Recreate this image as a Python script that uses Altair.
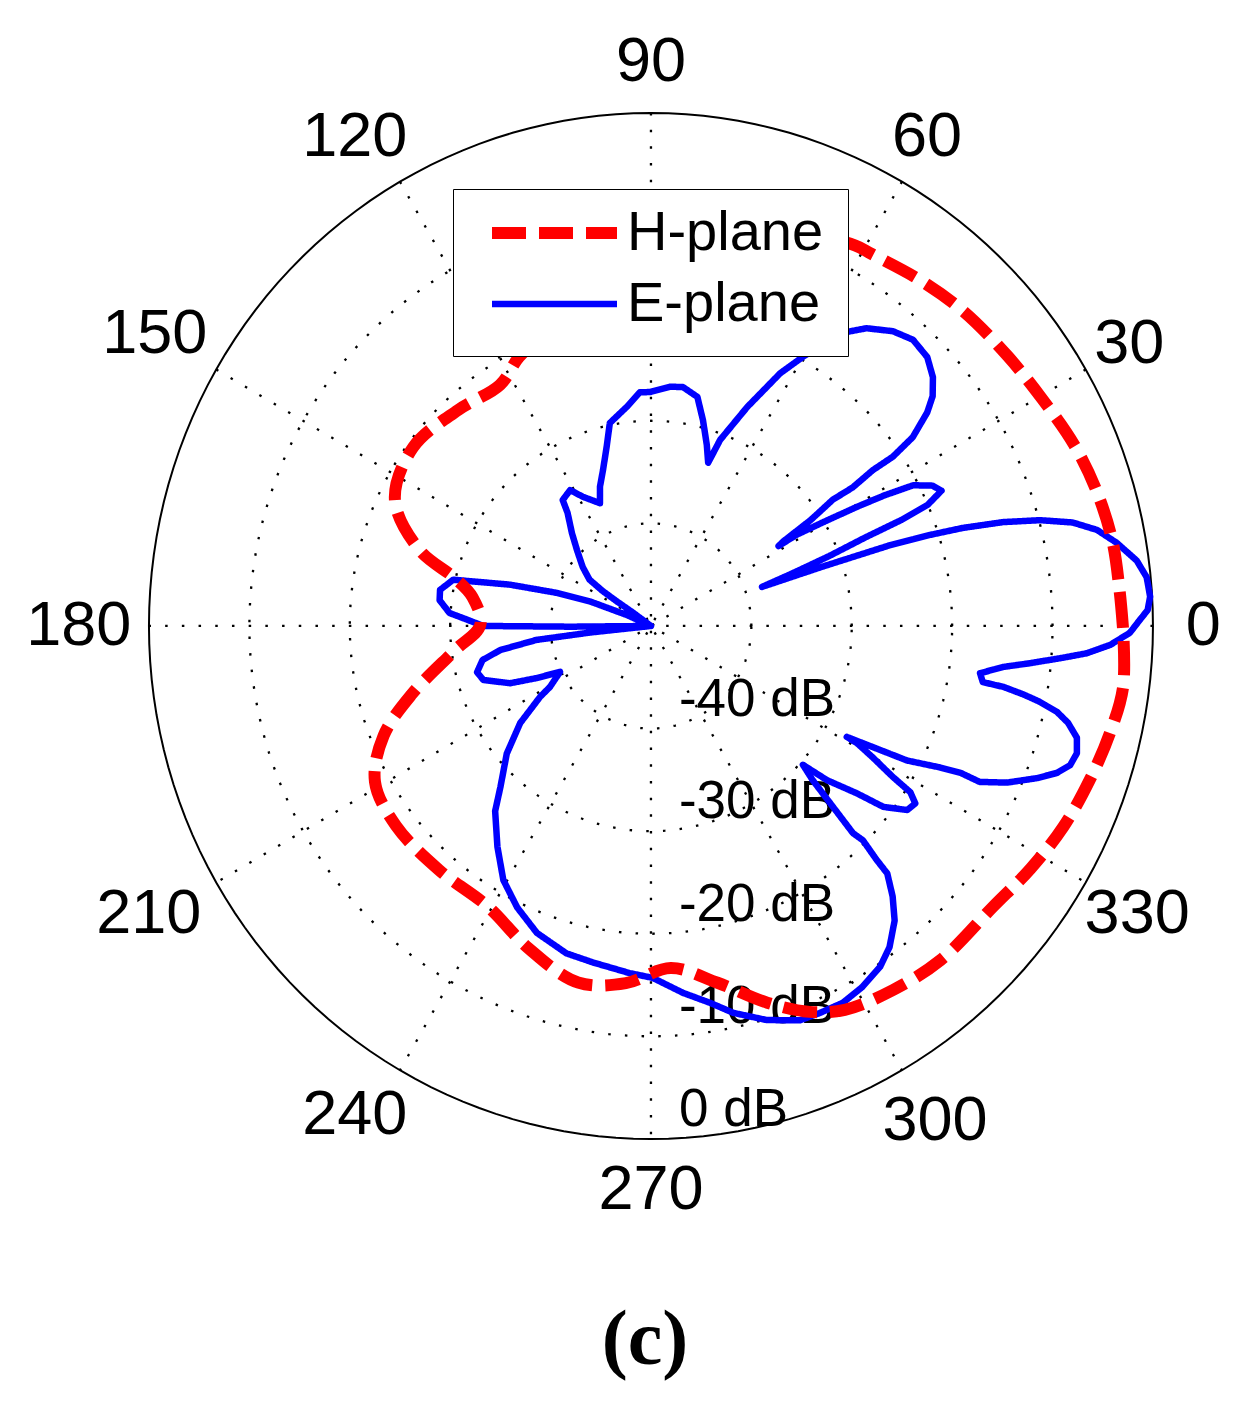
import altair as alt
import pandas as pd

# ---------------- data ----------------
# H-plane (red dashed): angle in degrees, level in dB (centre = -50 dB, outer ring = 0 dB)
h_ang = [0, 4.3, 10.2, 16.4, 22.7, 29.7, 36.6, 44.5, 51.2, 58.8, 61.3, 70, 80, 90, 100, 110,
         116.7, 122.6, 132.4, 143.7, 154.3, 162.2, 166.7, 171, 179.7, 187, 195.7, 201.9,
         208.9, 217.5, 228.4, 239.2, 248.8, 258.2, 265.9, 273.4, 280.8, 287.5, 292.8, 297.3,
         304.2, 311.5, 321.2, 328, 334.5, 341, 347.2, 352.8, 360]
h_db = [-3.0, -3.2, -3.3, -3.7, -4.3, -5.2, -5.8, -6.3, -6.9, -7.6, -7.7, -9.0, -11.0, -13.5,
        -16.5, -19.5, -20.7, -22.1, -21.5, -20.6, -21.7, -25.8, -30.0, -32.0, -33.0, -30.3,
        -25.2, -21.3, -18.6, -18.0, -18.2, -18.2, -16.3, -14.5, -15.1, -16.6, -14.6, -11.5,
        -9.2, -7.9, -7.1, -6.5, -6.3, -5.4, -4.5, -3.8, -3.1, -2.6, -3.0]

# E-plane (blue solid), in drawing order
e_ang = [0.7, 1.8, 3.3, 5.5, 7.5, 9.9, 11.9, 13.5, 14.9, 16.1, 17.1, 17.7, 18.3, 18.7, 19.0,
         20.0, 21.0, 22.0, 22.5, 23.2, 24.5, 26.0, 27.7, 28.7, 29.5, 30.5, 31.5, 31.5, 32.0,
         33.0, 34.2, 33.9, 34.5, 34.4, 35.2, 37.1, 38.6, 40.8, 43.6, 46.9, 50.0, 53.5, 55.7,
         58.0, 60.0, 62.4, 65.8, 69.2, 70.3, 72.5, 75.5, 78.3, 82.2, 85.3, 90.2, 92.8, 96.4,
         101.7, 104.2, 107.5, 110.5, 113.0, 118.3, 121.3, 125.6, 127.0, 131.0, 135.0, 139.8,
         143.6, 144.7, 144.8, 144.0, 145.0, 150.0, 155.0, 156.0, 158.5, 161.0, 164.0, 167.1,
         170.5, 173.2, 176.4, 178.1, 180.0, 180.5, 181.0, 184.0, 186.0, 186.8, 188.9, 191.2,
         194.6, 197.5, 201.7, 204.0, 206.3, 210.6, 212.0, 216.0, 220.9, 226.3, 229.3, 234.6,
         239.3, 244.1, 249.2, 255.2, 260.0, 266.4, 270.3, 275.1, 279.1, 282.3, 286.7, 291.1,
         294.0, 297.5, 300.9, 304.5, 307.2, 310.2, 312.4, 314.3, 314.6, 315.3, 314.9, 315.8,
         317.0, 318.2, 319.4, 321.5, 322.7, 324.9, 326.7, 327.9, 328.6, 329.9, 330.9, 331.0,
         331.9, 332.8, 334.4, 335.1, 335.1, 336.7, 338.9, 340.5, 342.0, 343.7, 345.6, 347.2,
         348.3, 349.2, 349.8, 350.4, 350.6, 352.0, 353.5, 354.5, 355.7, 356.5, 357.7, 359.2,
         360.7]
e_db = [-1.3, -0.5, -0.2, -0.4, -1.2, -2.9, -4.6, -6.8, -9.9, -13.5, -17.5, -20.8, -25.0,
        -32.0, -38.3, -35.0, -31.0, -27.0, -23.0, -20.0, -18.2, -18.8, -20.5, -23.5, -26.4,
        -30.0, -33.0, -35.1, -34.5, -31.0, -28.1, -25.8, -23.2, -20.8, -18.1, -15.5, -14.1,
        -12.9, -12.0, -11.8, -12.5, -13.9, -15.3, -17.5, -19.7, -22.2, -26.6, -30.6, -33.1,
        -31.5, -29.3, -27.2, -26.5, -26.6, -27.2, -27.2, -28.5, -29.8, -32.0, -34.1, -35.5,
        -37.0, -35.7, -34.5, -34.9, -36.2, -38.0, -39.6, -41.1, -42.4, -44.1, -45.8, -47.8,
        -50.0, -50.0, -50.0, -47.4, -43.5, -40.1, -35.4, -29.8, -28.7, -28.8, -29.9, -31.7,
        -33.3, -42.0, -50.0, -50.0, -44.0, -38.5, -34.8, -32.9, -32.1, -32.5, -34.9, -37.5,
        -39.9, -38.3, -37.0, -33.9, -31.0, -28.3, -26.2, -23.6, -21.2, -19.5, -18.0, -17.0,
        -16.7, -16.1, -15.7, -14.1, -12.8, -11.4, -9.9, -8.8, -8.7, -8.6, -9.0, -9.7, -10.7,
        -12.4, -14.3, -16.3, -18.0, -20.3, -21.5, -24.7, -28.0, -29.7, -26.9, -23.8, -20.9,
        -18.8, -18.5, -19.5, -21.8, -24.5, -26.5, -27.7, -24.9, -21.3, -18.1, -16.0, -13.9,
        -11.4, -8.8, -7.1, -6.1, -5.8, -6.2, -7.4, -8.7, -10.6, -12.3, -14.4, -16.5, -16.9,
        -14.7, -12.1, -8.8, -6.5, -4.2, -2.3, -1.3]

series_names = ["H-plane", "E-plane"]
series_colors = ["#ff0000", "#0000ff"]
series_dash = [[34, 13], [1, 0]]
series_width = [12, 6.5]

ring_levels = [-40, -30, -20, -10]
outer_level = [0]
spoke_angles = [0, 30, 60, 90, 120, 150]
tick_angles = [0, 30, 60, 90, 120, 150, 180, 210, 240, 270, 300, 330]
tick_labels = ["0", "30", "60", "90", "120", "150", "180", "210", "240", "270", "300", "330"]
db_levels = [-40, -30, -20, -10, 0]
db_texts = ["-40 dB", "-30 dB", "-20 dB", "-10 dB", "0 dB"]
floor_db = -50
circle_steps = list(range(0, 362, 2))

# ---------------- layout ----------------
W, H = 1230, 1290
xs = alt.Scale(domain=[-64.04, 58.47], nice=False, zero=False)
ys = alt.Scale(domain=[-65.50, 60.23], nice=False, zero=False)
X = alt.X("x:Q", scale=xs, axis=None)
Y = alt.Y("y:Q", scale=ys, axis=None)
FONT = "Liberation Sans"

R_EXPR = f"max(0, datum.db - ({floor_db}))"


def polar(chart):
    return chart.transform_calculate(
        r=R_EXPR
    ).transform_calculate(
        x="datum.r * cos(datum.ang * PI / 180)",
        y="datum.r * sin(datum.ang * PI / 180)",
    )


# grid rings (dotted)
ring_df = pd.DataFrame([{"lev": l, "ang": a, "db": l} for l in ring_levels for a in circle_steps])
rings = polar(alt.Chart(ring_df)).mark_line(
    color="black", strokeWidth=2.3, strokeDash=[2.5, 14.2]
).encode(x=X, y=Y, detail="lev:N", order="ang:Q")

outer_df = pd.DataFrame([{"lev": l, "ang": a, "db": l} for l in outer_level for a in circle_steps])
outer = polar(alt.Chart(outer_df)).mark_line(
    color="black", strokeWidth=2
).encode(x=X, y=Y, detail="lev:N", order="ang:Q")

# spokes (dotted, through centre)
spoke_df = pd.DataFrame({"ang": spoke_angles})
spokes = alt.Chart(spoke_df).transform_calculate(
    x=f"{-floor_db} * cos(datum.ang * PI / 180)",
    y=f"{-floor_db} * sin(datum.ang * PI / 180)",
    x2=f"-{-floor_db} * cos(datum.ang * PI / 180)",
    y2=f"-{-floor_db} * sin(datum.ang * PI / 180)",
).mark_rule(color="black", strokeWidth=2.3, strokeDash=[2.5, 14.2]).encode(
    x=X, y=Y, x2="x2:Q", y2="y2:Q"
)

# angle labels
lab_df = pd.DataFrame({"ang": tick_angles, "txt": tick_labels})


def angle_labels(flt, dx, dy=0):
    return alt.Chart(lab_df).transform_filter(flt).transform_calculate(
        x=f"{-floor_db} * 1.1 * cos(datum.ang * PI / 180)",
        y=f"{-floor_db} * 1.1 * sin(datum.ang * PI / 180)",
    ).mark_text(
        font=FONT, fontSize=63, color="black", align="center", baseline="middle", dx=dx, dy=dy
    ).encode(x=X, y=Y, text="txt:N")


lab_left = angle_labels("datum.ang > 90 && datum.ang < 270 && datum.ang != 150 && datum.ang != 210", -20)
lab_150 = angle_labels("datum.ang == 150", -18, -10)
lab_210 = angle_labels("datum.ang == 210", -24, 6)
lab_right3 = angle_labels("datum.ang >= 300", 8, 6)
lab_rest = angle_labels("!(datum.ang > 90 && datum.ang < 270) && datum.ang < 300", 0)

# dB labels
dbl_df = pd.DataFrame({"db": db_levels, "txt": db_texts})
db_labels = alt.Chart(dbl_df).transform_calculate(
    r=R_EXPR
).transform_calculate(
    x="0", y="-datum.r"
).mark_text(
    font=FONT, fontSize=53, color="black", align="left", baseline="alphabetic", dx=28, dy=-13
).encode(x=X, y=Y, text="txt:N")

# curves
leg = alt.Legend(
    orient="none", legendX=445, legendY=181, title=None, symbolType="stroke",
    symbolSize=15625, clipHeight=40, rowPadding=15, labelFontSize=56, labelFont=FONT,
    labelColor="black", labelLimit=500, labelOffset=4, symbolOffset=9, padding=24,
    strokeColor="black", fillColor="white", zindex=1,
)
col = alt.Color("series:N", scale=alt.Scale(domain=series_names, range=series_colors), legend=leg)
dash = alt.StrokeDash("series:N", scale=alt.Scale(domain=series_names, range=series_dash), legend=leg)
sw = alt.StrokeWidth("series:N", scale=alt.Scale(domain=series_names, range=series_width), legend=leg)

e_df = pd.DataFrame({"ang": e_ang, "db": e_db, "i": range(len(e_ang)), "series": "E-plane"})
h_df = pd.DataFrame({"ang": h_ang, "db": h_db, "i": range(len(h_ang)), "series": "H-plane"})

e_line = polar(alt.Chart(e_df)).mark_line(strokeCap="butt", strokeJoin="round").encode(
    x=X, y=Y, order="i:Q", color=col, strokeDash=dash, strokeWidth=sw
)
h_line = polar(alt.Chart(h_df)).mark_line(strokeCap="butt", interpolate="catmull-rom").encode(
    x=X, y=Y, order="i:Q", color=col, strokeDash=dash, strokeWidth=sw
)

chart = alt.layer(
    rings, spokes, outer, lab_left, lab_150, lab_210, lab_right3, lab_rest, db_labels, e_line, h_line
).properties(
    width=W, height=H,
    autosize=alt.AutoSizeParams(type="none"),
    padding={"left": 0, "top": 0, "right": 0, "bottom": 100},
    background="white",
    title=alt.TitleParams(
        text="(c)", orient="bottom", font="Liberation Serif", fontSize=78,
        fontWeight="bold", color="black", dx=22, offset=4,
    ),
).configure_view(stroke=None)

chart.save("out.html", embed_options={"renderer": "svg", "actions": False})
